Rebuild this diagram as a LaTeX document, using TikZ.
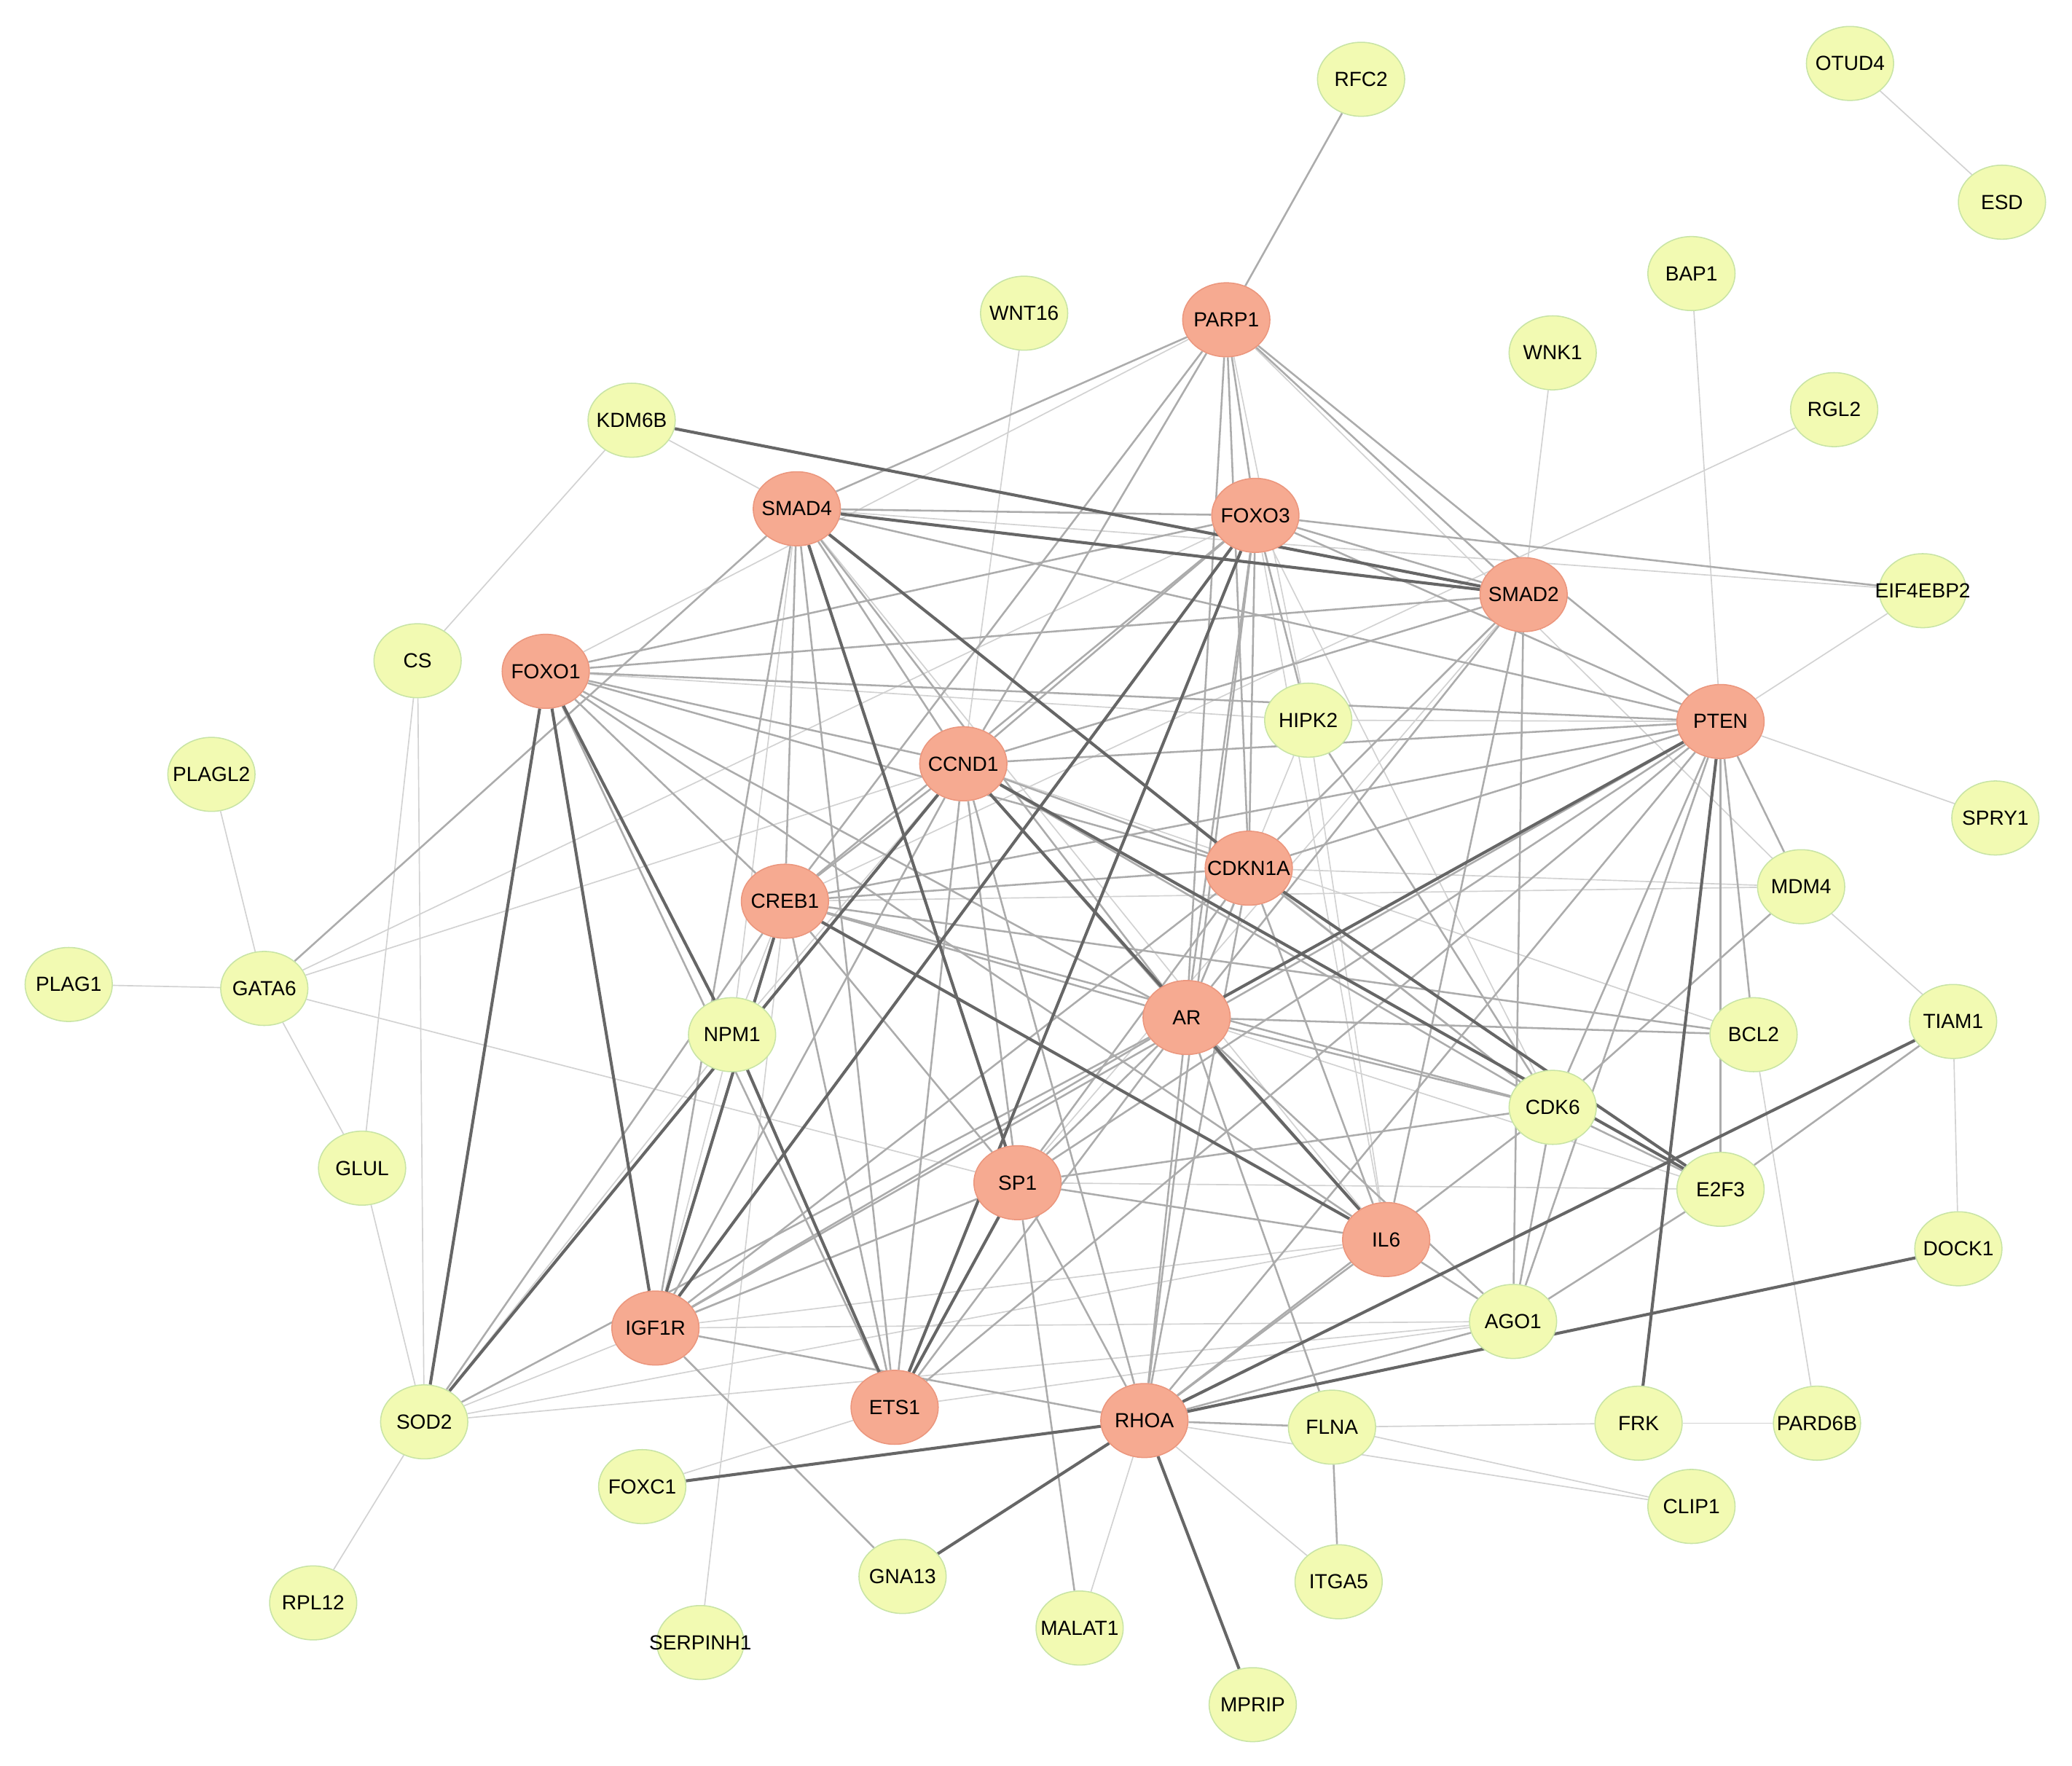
\documentclass[tikz,border=0pt]{standalone}
\usepackage{fontspec}
\setmainfont{Liberation Sans}
\usetikzlibrary{shapes.geometric}
\pgfdeclarelayer{bg}\pgfsetlayers{bg,main}
\definecolor{hubf}{RGB}{246,170,145}
\definecolor{hubd}{RGB}{235,150,125}
\definecolor{leaff}{RGB}{242,250,178}
\definecolor{leafd}{RGB}{200,228,165}
\tikzset{
 base/.style={ellipse,minimum width=3.3cm,minimum height=2.8cm,inner sep=0pt,font=\fontsize{22}{24}\selectfont,line width=1.2pt},
 hub/.style={base,fill=hubf,draw=hubd},
 leaf/.style={base,fill=leaff,draw=leafd},
 lt/.style={draw=gray!35,line width=1.3pt},
 md/.style={draw=gray!65,line width=2pt},
 tk/.style={draw=black!60,line width=3.2pt}
}
\begin{document}
\begin{tikzpicture}[x=0.05cm,y=-0.05cm]
\useasboundingbox (0,0) rectangle (1568,1336);
\foreach \n/\x/\y in {PARP1/928/242,SMAD4/603/385,FOXO3/950/390,SMAD2/1153/450,FOXO1/413/508,PTEN/1302/546,CCND1/729/578,CDKN1A/945/657,CREB1/594/682,AR/898/770,SP1/770/895,IL6/1049/938,IGF1R/496/1005,ETS1/677/1065,RHOA/866/1075}
  \node[hub] (\n) at (\x,\y) {\makebox[0pt]{\n}};
\foreach \n/\x/\y in {RFC2/1030/60,OTUD4/1400/48,ESD/1515/153,BAP1/1280/207,WNT16/775/237,WNK1/1175/267,RGL2/1388/310,KDM6B/478/318,EIF4EBP2/1455/447,CS/316/500,HIPK2/990/545,PLAGL2/160/586,SPRY1/1510/619,MDM4/1363/671,PLAG1/52/745,GATA6/200/748,NPM1/554/783,BCL2/1327/783,TIAM1/1478/773,CDK6/1175/838,GLUL/274/884,E2F3/1302/900,DOCK1/1482/945,AGO1/1145/1000,SOD2/321/1076,FLNA/1008/1080,FRK/1240/1077,PARD6B/1375/1077,FOXC1/486/1125,CLIP1/1280/1140,GNA13/683/1193,ITGA5/1013/1197,RPL12/237/1213,SERPINH1/530/1243,MALAT1/817/1232,MPRIP/948/1290}
  \node[leaf] (\n) at (\x,\y) {\makebox[0pt]{\n}};
\begin{pgfonlayer}{bg}
\fill[white] (0,0) rectangle (1568,1336);
\foreach \a/\b in {OTUD4/ESD,BAP1/PTEN,WNT16/CCND1,WNK1/SMAD2,RGL2/CREB1,KDM6B/SMAD4,KDM6B/CS,EIF4EBP2/PTEN,EIF4EBP2/SMAD4,CS/GLUL,CS/SOD2,PLAGL2/GATA6,PLAG1/GATA6,GATA6/GLUL,GATA6/FOXO3,GATA6/CCND1,GATA6/SP1,GLUL/SOD2,SOD2/RPL12,SOD2/SP1,SOD2/AGO1,SOD2/NPM1,SOD2/IL6,SPRY1/PTEN,TIAM1/MDM4,TIAM1/DOCK1,PARD6B/FRK,PARD6B/BCL2,CLIP1/FLNA,CLIP1/RHOA,FLNA/FRK,MALAT1/RHOA,FOXC1/ETS1,SERPINH1/CREB1,ITGA5/RHOA,PARP1/HIPK2,PARP1/MDM4,PARP1/FOXO1,SMAD4/CDK6,SMAD4/NPM1,SMAD4/IL6,FOXO3/CDK6,FOXO3/IL6,CCND1/BCL2,CCND1/NPM1,CDKN1A/MDM4,CREB1/MDM4,CREB1/NPM1,AR/HIPK2,AR/E2F3,IL6/HIPK2,IGF1R/AGO1,ETS1/AGO1,SP1/E2F3,PTEN/HIPK2,SMAD2/SP1,FOXO1/HIPK2,NPM1/IGF1R,IGF1R/IL6}
  \draw[lt] (\a) -- (\b);
\foreach \a/\b in {RFC2/PARP1,EIF4EBP2/FOXO3,GATA6/SMAD4,SOD2/CREB1,SOD2/AR,PARP1/SMAD4,PARP1/FOXO3,PARP1/SMAD2,PARP1/PTEN,PARP1/CCND1,PARP1/CDKN1A,PARP1/AR,PARP1/CREB1,SMAD4/FOXO3,SMAD4/PTEN,SMAD4/CCND1,SMAD4/CREB1,SMAD4/AR,SMAD4/ETS1,SMAD4/IGF1R,FOXO3/SMAD2,FOXO3/PTEN,FOXO3/FOXO1,FOXO3/CCND1,FOXO3/CDKN1A,FOXO3/CREB1,FOXO3/AR,FOXO3/HIPK2,FOXO3/RHOA,SMAD2/FOXO1,SMAD2/CCND1,SMAD2/CDKN1A,SMAD2/AR,SMAD2/IL6,SMAD2/AGO1,FOXO1/PTEN,FOXO1/CCND1,FOXO1/CDKN1A,FOXO1/AR,FOXO1/ETS1,FOXO1/CREB1,FOXO1/IL6,PTEN/CCND1,PTEN/CDKN1A,PTEN/CREB1,PTEN/IGF1R,PTEN/MDM4,PTEN/BCL2,PTEN/E2F3,PTEN/CDK6,PTEN/RHOA,PTEN/AGO1,PTEN/ETS1,PTEN/SP1,CCND1/CDKN1A,CCND1/CREB1,CCND1/AR,CCND1/CDK6,CCND1/SP1,CCND1/ETS1,CCND1/RHOA,CCND1/IGF1R,CDKN1A/CREB1,CDKN1A/AR,CDKN1A/CDK6,CDKN1A/RHOA,CDKN1A/SP1,CDKN1A/IGF1R,CDKN1A/IL6,CREB1/AR,CREB1/BCL2,CREB1/ETS1,CREB1/CDK6,CREB1/SP1,AR/SP1,AR/IL6,AR/IGF1R,AR/ETS1,AR/RHOA,AR/CDK6,AR/FLNA,AR/AGO1,AR/BCL2,SP1/IGF1R,SP1/IL6,SP1/RHOA,SP1/CDK6,IL6/AGO1,IL6/RHOA,IGF1R/RHOA,RHOA/AGO1,RHOA/CDK6,HIPK2/CDK6,CDK6/AGO1,CDK6/MDM4,CDK6/E2F3,E2F3/AGO1,FLNA/ITGA5,FLNA/RHOA,MALAT1/SP1,IGF1R/GNA13,TIAM1/E2F3}
  \draw[md] (\a) -- (\b);
\foreach \a/\b in {KDM6B/SMAD2,SOD2/FOXO1,SOD2/CCND1,TIAM1/RHOA,DOCK1/RHOA,FRK/PTEN,GNA13/RHOA,MPRIP/RHOA,FOXC1/RHOA,SMAD4/CDKN1A,SMAD4/SP1,SMAD4/SMAD2,FOXO1/IGF1R,FOXO1/NPM1,CCND1/IL6,CCND1/E2F3,CREB1/IL6,CDKN1A/E2F3,AR/PTEN,SP1/ETS1,IGF1R/FOXO3,FOXO3/ETS1,NPM1/ETS1,CREB1/IGF1R}
  \draw[tk] (\a) -- (\b);
\end{pgfonlayer}
\end{tikzpicture}
\end{document}
